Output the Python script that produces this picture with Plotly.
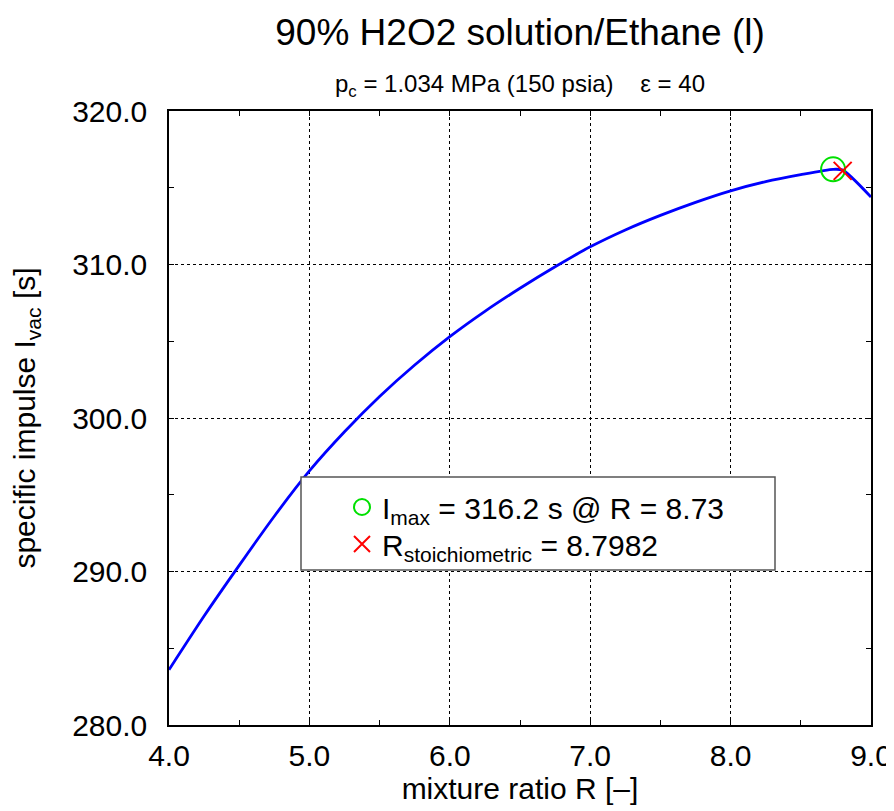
import plotly.graph_objects as go

# mixture ratio R [-] and vacuum specific impulse [s]
mixture_ratio = [4.0, 4.25, 4.5, 4.75, 5.0, 5.25, 5.5, 5.75, 6.0, 6.25, 6.5, 6.75,
                 7.0, 7.25, 7.5, 7.75, 8.0, 8.25, 8.5, 8.73, 8.8, 9.0]
isp_vac = [283.6, 287.1, 290.4, 293.6, 296.55, 299.1, 301.4, 303.45, 305.3, 306.95,
           308.45, 309.85, 311.15, 312.25, 313.2, 314.05, 314.8, 315.4, 315.85,
           316.2, 316.15, 314.4]

imax_r = [8.73]
imax_isp = [316.2]
stoich_r = [8.7982]
stoich_isp = [316.1]

x_ticks = [4.0, 5.0, 6.0, 7.0, 8.0, 9.0]
y_ticks = [280.0, 290.0, 300.0, 310.0, 320.0]

FONT = "Liberation Sans, Arial, sans-serif"

# the page body adds an 8 px offset; geometry below is in page pixels
OFF = 8
L, R, T, B = 169, 871, 111, 725
PW, PH = R - L, B - T


def px(xp):
    return (xp - L) / PW


def py(yp):
    return (B - yp) / PH


fig = go.Figure()
fig.add_trace(go.Scatter(
    x=mixture_ratio, y=isp_vac, mode="lines",
    line=dict(color="#0000ff", width=2.8, shape="spline", smoothing=0.6),
    showlegend=False, hoverinfo="x+y"))
fig.add_trace(go.Scatter(
    x=imax_r, y=imax_isp, mode="markers",
    marker=dict(symbol="circle-open", size=24, color="#00e000", line=dict(width=2, color="#00e000")),
    name="I<sub>max</sub> = 316.2 s @ R = 8.73", legend="legend"))
fig.add_trace(go.Scatter(
    x=stoich_r, y=stoich_isp, mode="markers",
    marker=dict(symbol="x-thin-open", size=18, color="#ff0000", line=dict(width=2, color="#ff0000")),
    name="R<sub>stoichiometric</sub> = 8.7982", legend="legend2"))

axis_common = dict(
    showline=True, linecolor="black", linewidth=1.5, mirror="allticks",
    ticks="inside", ticklen=5, tickwidth=1, tickcolor="black",
    showgrid=True, gridcolor="black", griddash="dot", gridwidth=1,
    zeroline=False, tickformat=".1f", automargin=False,
)

fig.update_xaxes(
    range=[4, 9], tickvals=x_ticks, **axis_common,
    minor=dict(ticks="inside", ticklen=5, dtick=0.5, tickcolor="black", showgrid=False),
    tickfont=dict(family=FONT, size=30, color="black"),
    ticklabelstandoff=3,
    title=dict(text="mixture ratio R [–]", font=dict(family=FONT, size=30, color="black"), standoff=0),
)
fig.update_yaxes(
    range=[280, 320], tickvals=y_ticks, **axis_common,
    minor=dict(ticks="inside", ticklen=5, dtick=5, tickcolor="black", showgrid=False),
    tickfont=dict(family=FONT, size=30, color="black"),
    ticklabelstandoff=14,
    title=dict(text="specific impulse I<sub>vac</sub> [s]", font=dict(family=FONT, size=30, color="black"), standoff=36),
)

# legend box
fig.add_shape(type="rect", xref="paper", yref="paper",
              x0=px(301), x1=px(775), y0=py(570), y1=py(477),
              line=dict(color="#555555", width=1.5), fillcolor="white", layer="above")

legend_common = dict(xanchor="left", yanchor="middle", bgcolor="rgba(0,0,0,0)", borderwidth=0,
                     font=dict(family=FONT, size=30, color="black"))

fig.update_layout(
    width=894 - OFF, height=811 - OFF,
    margin=dict(l=L - OFF, r=894 - R, t=T - OFF, b=811 - B),
    paper_bgcolor="white", plot_bgcolor="white",
    font=dict(family=FONT, color="black"),
    title=dict(text="90% H2O2 solution/Ethane (l)", x=0.5, xref="paper", xanchor="center",
               y=1 - 24 / (811 - OFF), yref="container", yanchor="middle",
               font=dict(family=FONT, size=37, color="black")),
    legend=dict(x=px(342), y=py(507), **legend_common),
    legend2=dict(x=px(342), y=py(544), **legend_common),
    annotations=[dict(text="p<sub>c</sub> = 1.034 MPa (150 psia)\u00a0\u00a0\u00a0\u00a0ε = 40",
                      x=0.5, xref="paper", y=py(86), yref="paper",
                      xanchor="center", yanchor="middle", showarrow=False,
                      font=dict(family=FONT, size=24, color="black"))],
)

fig.write_html("out.html")
